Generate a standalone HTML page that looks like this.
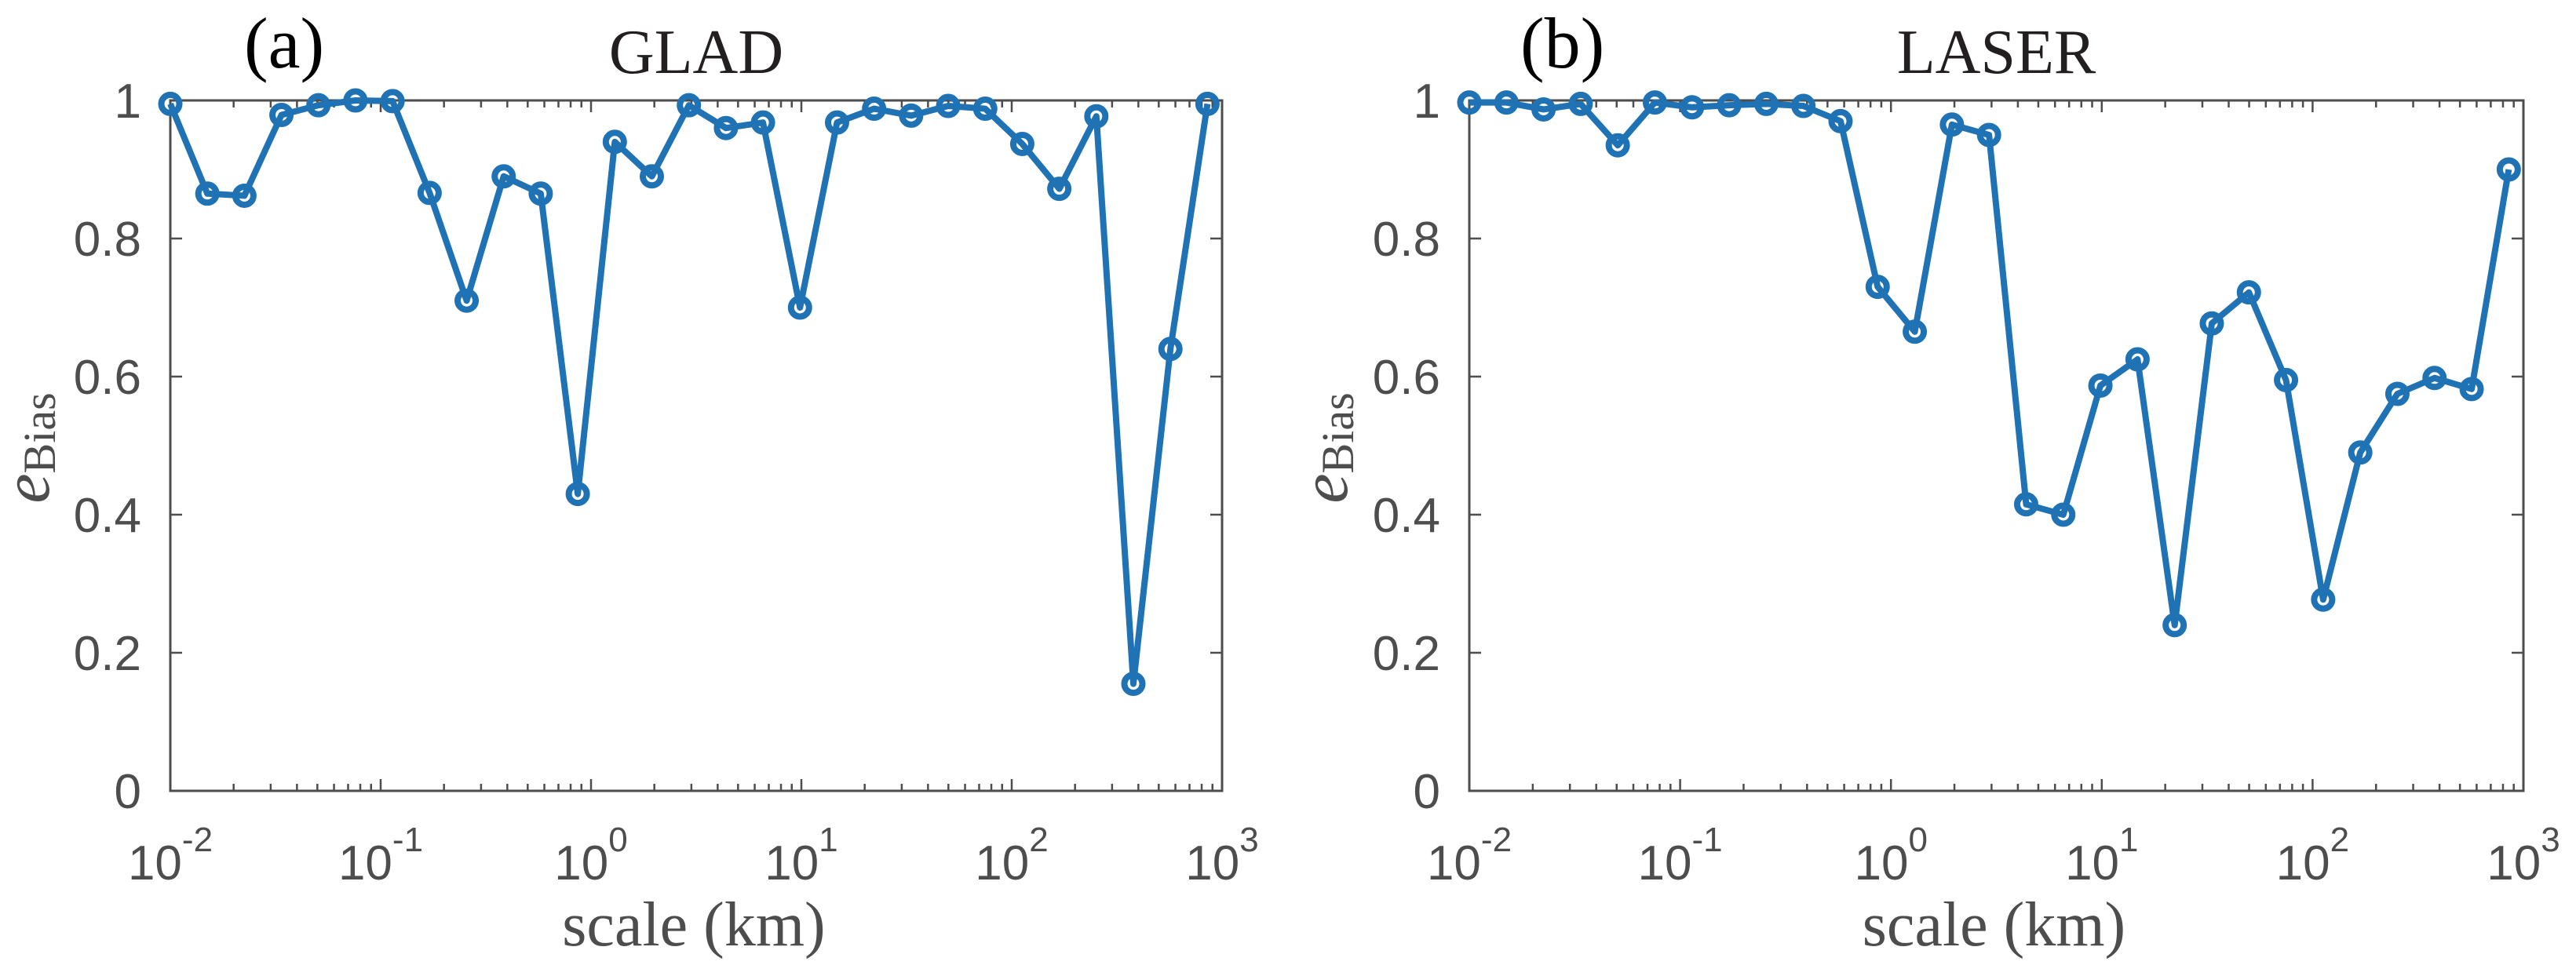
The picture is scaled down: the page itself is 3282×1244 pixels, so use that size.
<!DOCTYPE html>
<html><head><meta charset="utf-8"><style>
html,body{margin:0;padding:0;background:#fff;}
svg{display:block;}
</style></head><body>
<svg id="fig" width="3282" height="1244" xmlns="http://www.w3.org/2000/svg">
</svg>
<script>
const scales = [0.01,0.015,0.0225,0.03375,0.0506,0.0759,0.1139,0.1709,0.2563,0.3844,0.5767,0.865,1.2975,1.9462,2.9193,4.379,6.5685,9.8528,14.779,22.169,33.253,49.88,74.82,112.23,168.34,252.51,378.77,568.15,852.23];
const gladValues = [0.995,0.865,0.862,0.979,0.993,1.0,0.999,0.866,0.71,0.89,0.865,0.43,0.94,0.89,0.993,0.96,0.968,0.70,0.968,0.988,0.978,0.992,0.988,0.937,0.872,0.977,0.155,0.64,0.995];
const laserValues = [0.997,0.997,0.987,0.995,0.935,0.997,0.99,0.993,0.995,0.992,0.97,0.73,0.665,0.965,0.95,0.415,0.40,0.587,0.625,0.24,0.677,0.722,0.595,0.277,0.49,0.575,0.598,0.582,0.90];
const yTicks = [0,0.2,0.4,0.6,0.8,1];
const yTickLabels = ['0','0.2','0.4','0.6','0.8','1'];
const xDecades = [-2,-1,0,1,2,3];
const panelTitles = ['GLAD','LASER'];
const panelLetters = ['(a)','(b)'];

const NS='http://www.w3.org/2000/svg';
const svg=document.getElementById('fig');
function mk(tag,attrs,parent){const e=document.createElementNS(NS,tag);for(const k in attrs)e.setAttribute(k,attrs[k]);(parent||svg).appendChild(e);return e;}

const panels=[
 {x0:217,x1:1557,values:gladValues,letterX:311,ylabX:62},
 {x0:1872,x1:3215,values:laserValues,letterX:1937,ylabX:1716}
];
const Y0=1008,Y1=128;
const AX='#4d4d4d', LC='#1f72b4';

panels.forEach((p,pi)=>{
 const g=mk('g',{});
 
 
 const xs=v=>p.x0+(Math.log10(v)+2)/5*(p.x1-p.x0);
 const ys=v=>Y0-v*(Y0-Y1);
 const cx=(p.x0+p.x1)/2;
 const tg=mk('g',{stroke:AX,'stroke-width':2.5},g);
 
 
 yTicks.forEach((t,i)=>{
  const y=ys(t);
  mk('line',{x1:p.x0,y1:y,x2:p.x0+15,y2:y},tg);
  mk('line',{x1:p.x1,y1:y,x2:p.x1-15,y2:y},tg);
  const tx=mk('text',{x:p.x0-37,y:y+22,'text-anchor':'end','font-family':'Liberation Sans, sans-serif','font-size':62,fill:AX,stroke:'none'},g);
  tx.textContent=yTickLabels[i];
  
  
 });
 xDecades.forEach((d,i)=>{
  const x=xs(Math.pow(10,d));
  mk('line',{x1:x,y1:Y0,x2:x,y2:Y0-15},tg);
  mk('line',{x1:x,y1:Y1,x2:x,y2:Y1+15},tg);
  if(i<xDecades.length-1){for(let m=2;m<=9;m++){const xm=xs(m*Math.pow(10,d));
   mk('line',{x1:xm,y1:Y0,x2:xm,y2:Y0-9},tg);mk('line',{x1:xm,y1:Y1,x2:xm,y2:Y1+9},tg);}}
  const tx=mk('text',{x:x,y:1121,'text-anchor':'middle','font-family':'Liberation Sans, sans-serif','font-size':62,fill:AX},g);
  
  
  const base=mk('tspan',{},tx);base.textContent='10';
  const sup=mk('tspan',{dy:-36,'font-size':44},tx);
  sup.textContent=String(d);
 });
 const box=mk('rect',{x:p.x0,y:Y1,width:p.x1-p.x0,height:Y0-Y1,fill:'none',stroke:AX,'stroke-width':3},g);
 
 
 const pts=scales.map((s,i)=>xs(s)+','+ys(p.values[i])).join(' ');
 const pl=mk('polyline',{points:pts,fill:'none',stroke:LC,'stroke-width':8,'stroke-linejoin':'round'},g);
 
 
 scales.forEach((s,i)=>{
  const c=mk('circle',{cx:xs(s),cy:ys(p.values[i]),r:11.5,fill:'none',stroke:LC,'stroke-width':8},g);
  
  
 });
 const t=mk('text',{x:cx,y:93,'text-anchor':'middle','font-family':'Liberation Serif, serif','font-size':80,fill:'#231f20'},g);
 t.textContent=panelTitles[pi];
 
 
 const l=mk('text',{x:p.letterX,y:86,'font-family':'Liberation Serif, serif','font-size':92,fill:'#000'},g);
 l.textContent=panelLetters[pi];
 
 
 const xl=mk('text',{x:cx-3,y:1205,'text-anchor':'middle','font-family':'Liberation Serif, serif','font-size':80,fill:AX},g);
 xl.textContent='scale (km)';
 
 
 const yl=mk('text',{x:0,y:0,transform:'translate('+p.ylabX+',571) rotate(-90)','text-anchor':'middle','font-family':'Liberation Serif, serif','font-size':58,fill:AX},g);
 
 
 const e=mk('tspan',{'font-style':'italic','font-size':86},yl);e.textContent='e';
 const sb=mk('tspan',{'font-size':58,dy:8},yl);sb.textContent='Bias';
});
</script>
</body></html>
